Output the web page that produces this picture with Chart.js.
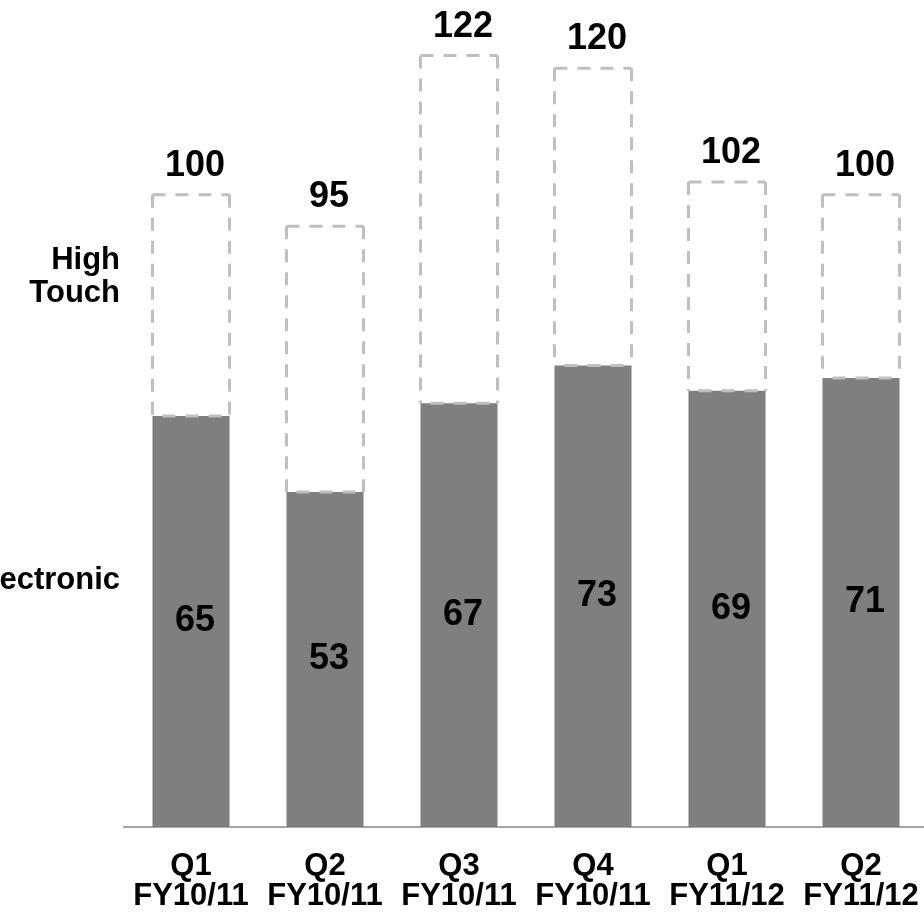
<!DOCTYPE html>
<html>
<head>
<meta charset="utf-8">
<title>Electronic vs High Touch</title>
<script src="https://cdn.jsdelivr.net/npm/chart.js@4.4.0/dist/chart.umd.min.js"></script>
<style>
    html, body { margin: 0; padding: 0; background: #ffffff; overflow: hidden; }
    #chart { display: block; }
</style>
</head>
<body>
<canvas id="chart" width="940" height="917"></canvas>
<script>
// Chart data
const quarters = [
    ['Q1', 'FY10/11'],
    ['Q2', 'FY10/11'],
    ['Q3', 'FY10/11'],
    ['Q4', 'FY10/11'],
    ['Q1', 'FY11/12'],
    ['Q2', 'FY11/12']
];
const electronic = [65, 53, 67, 73, 69, 71];
const highTouch = [35, 42, 55, 47, 33, 29];
const seriesNames = ['Electronic', ['High', 'Touch']];

const FONT = "'Liberation Sans', Arial, sans-serif";

// Dashed outline for the High Touch segment + value labels
const barDecorations = {
    id: 'barDecorations',
    afterDatasetsDraw(chart) {
        const ctx = chart.ctx;
        const lowerBars = chart.getDatasetMeta(0).data;
        const upperBars = chart.getDatasetMeta(1).data;

        ctx.save();
        ctx.strokeStyle = '#bfbfbf';
        ctx.lineWidth = 3;
        ctx.setLineDash([13, 10]);
        upperBars.forEach((bar) => {
            const left = bar.x - bar.width / 2;
            const right = bar.x + bar.width / 2;
            const top = bar.y;
            const bottom = bar.base;
            const sides = [
                [left, top, right, top, 0],
                [left, top, left, bottom, 0],
                [right, top, right, bottom, 0],
                [left, bottom, right, bottom, 13]
            ];
            sides.forEach(([x1, y1, x2, y2, offset]) => {
                ctx.lineDashOffset = offset;
                ctx.beginPath();
                ctx.moveTo(x1, y1);
                ctx.lineTo(x2, y2);
                ctx.stroke();
            });
        });
        ctx.setLineDash([]);

        ctx.fillStyle = '#000000';
        ctx.font = 'bold 36px ' + FONT;
        ctx.textAlign = 'center';

        // Electronic values, centred in the grey bars
        ctx.textBaseline = 'middle';
        lowerBars.forEach((bar, i) => {
            ctx.fillText(electronic[i], bar.x + 4, (bar.y + bar.base) / 2);
        });

        // Totals above the dashed boxes
        ctx.textBaseline = 'alphabetic';
        upperBars.forEach((bar, i) => {
            ctx.fillText(electronic[i] + highTouch[i], bar.x + 4, bar.y - 19);
        });
        ctx.restore();
    }
};

const ctx = document.getElementById('chart').getContext('2d');
new Chart(ctx, {
    type: 'bar',
    data: {
        labels: quarters,
        datasets: [{
            label: 'Electronic',
            data: electronic,
            backgroundColor: '#7f7f7f',
            borderWidth: 0,
            categoryPercentage: 1,
            barPercentage: 0.575
        }, {
            label: 'High Touch',
            data: highTouch,
            backgroundColor: 'rgba(255, 255, 255, 0)',
            borderWidth: 0,
            categoryPercentage: 1,
            barPercentage: 0.575
        }]
    },
    options: {
        responsive: false,
        animation: false,
        layout: {
            padding: { top: 5, right: 12, left: 0, bottom: 0 }
        },
        plugins: {
            legend: { display: false },
            tooltip: { enabled: false }
        },
        scales: {
            x: {
                stacked: true,
                grid: { display: false, drawTicks: false },
                border: { display: true, color: '#a6a6a6', width: 2 },
                ticks: {
                    color: '#000000',
                    maxRotation: 0,
                    autoSkip: false,
                    padding: 24,
                    font: { family: FONT, size: 31, weight: 'bold', lineHeight: '30px' }
                },
                afterFit: (scale) => {
                    scale.height = 90;
                    scale.paddingLeft = 0;
                    scale.paddingRight = 0;
                }
            },
            y: {
                stacked: true,
                min: 0,
                max: 130,
                grid: { display: false, drawTicks: false },
                border: { display: false },
                ticks: {
                    color: '#000000',
                    padding: 4,
                    font: { family: FONT, size: 31, weight: 'bold', lineHeight: '33px' },
                    callback: (value, index) => seriesNames[index]
                },
                // series names sit beside the chart, one per stack level
                afterBuildTicks: (scale) => { scale.ticks = [{ value: 39 }, { value: 87 }]; },
                afterFit: (scale) => {
                    scale.width = 124;
                    scale.paddingTop = 0;
                    scale.paddingBottom = 0;
                }
            }
        }
    },
    plugins: [barDecorations]
});
</script>
</body>
</html>
